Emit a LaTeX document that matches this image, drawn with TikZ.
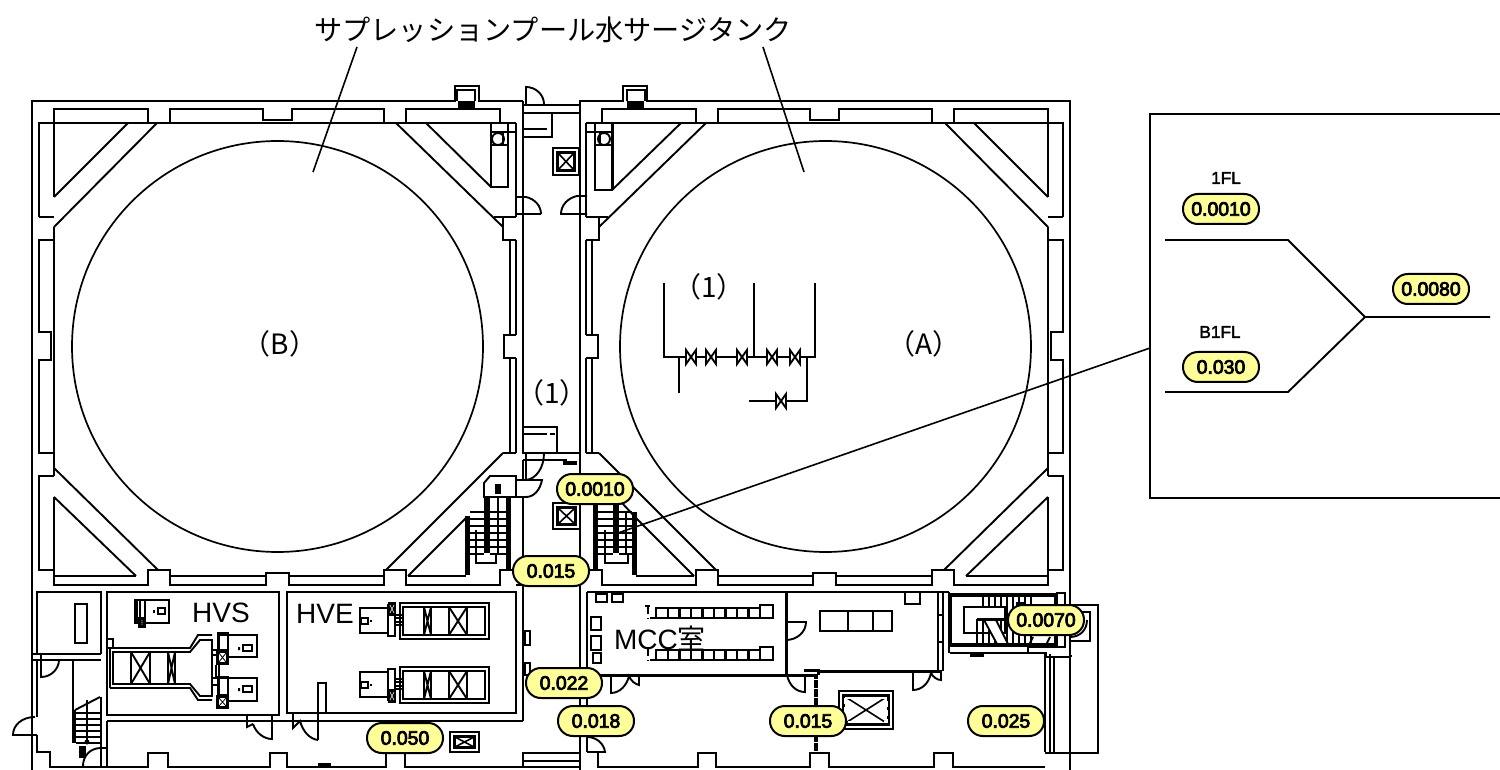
\documentclass[tikz,border=0pt]{standalone}
\usepackage{fontspec}
\setmainfont{Liberation Sans}
\newfontfamily\cjk{Noto Sans CJK JP}
\newcommand{\embold}[2]{\special{pdf:code q 2 Tr #1 w}#2\special{pdf:code Q}}
\tikzset{
  wall/.style={line width=0.95pt,line cap=butt,line join=miter},
  thin wall/.style={line width=0.7pt},
  thick wall/.style={line width=1.5pt},
  leader/.style={line width=0.8pt},
  pill/.style={draw=black,fill=pillyellow,line width=1pt,rounded corners=7.4pt,minimum width=38pt,minimum height=15pt,inner sep=0pt,font=\fontsize{9.7}{11}\selectfont},
  big/.style={font=\fontsize{14}{16}\selectfont,inner sep=0pt},
  small/.style={font=\fontsize{8.6}{10}\selectfont,inner sep=0pt},
  solidbk/.style={fill=black,draw=black,line width=0.4pt}
}
\definecolor{pillyellow}{HTML}{FFFF99}
% one tank hall: far wall, top run, bottom run, corner diagonals
\newcommand{\hallshell}{%
  \draw[wall] (32,770)--(32,101)--(455,101)--(455,86)--(479,86)--(479,101)--(523,101);
  \draw[wall] (457,101)--(457,90)--(475,90)--(475,101);
  \fill (458,101) rectangle (475,109);
  \draw[wall] (39,217)--(39,123)--(516,123);
  \draw[wall] (39,217)--(54,217) (54,240)--(39,240)--(39,332)--(51,332)--(51,360)--(39,360)--(39,453)--(54,453);
  \draw[wall] (54,476)--(39,476)--(39,570)--(54,570);
  \draw[wall] (54,197)--(54,109)--(148,109)--(148,123) (170,123)--(170,109)--(263,109)--(263,120)--(292,120)--(292,109)--(384,109)--(384,123) (406,123)--(406,109)--(500,109)--(500,123);
  \draw[wall] (54,227)--(54,476) (54,497)--(54,585)--(148,585)--(148,570)--(170,570)--(170,585)--(266,585)--(266,573)--(289,573)--(289,585)--(384,585)--(384,570)--(406,570)--(406,585)--(500,585)--(500,570)--(516,570);
  \draw[wall] (54,576)--(136,576) (170,576)--(266,576) (289,576)--(384,576) (408,576)--(466,576);
  \draw[wall] (157,123)--(54,227) (128,123)--(54,197) (396,123)--(503,227);
  \draw[wall] (54,468)--(158,570) (54,497)--(136,576) (503,453)--(386,570) (408,576)--(466,518);
  \draw[wall] (494,217)--(516,217) (503,217)--(503,240)--(516,240);
  \draw[wall] (516,123)--(516,217) (516,240)--(516,335) (516,358)--(516,453);
  \draw[wall] (510,240)--(510,335) (510,358)--(510,453);
  \draw[wall] (516,335)--(504,335)--(504,358)--(516,358);
  \draw[wall] (503,453)--(516,453);
}
\newcommand{\elevbox}[4]{%
  \draw[thin wall,fill=white] (#1,#2) rectangle (#3,#4);
  \fill[black] (#1+3,#2+3) rectangle (#3-3,#4-3);
  \fill[white] (#1+6,#2+6) rectangle (#3-6,#4-6);
  \draw[line width=0.8pt] (#1+5,#2+5)--(#3-5,#4-5) (#1+5,#4-5)--(#3-5,#2+5);
}
\newcommand{\valveH}[2]{%
  \draw[wall,fill=white] (#1-5,#2-7)--(#1+5,#2+7)--(#1+5,#2-7)--(#1-5,#2+7)--cycle;
}
% exhaust air unit, y = top of unit, #2 = top of black fan box
\newcommand{\ahuE}[2]{%
  \draw[wall] (400,#1)rectangle(489,#1+36);
  \draw[wall] (403,#1+4)rectangle(485,#1+32);
  \draw[wall] (424,#1+4)--(424,#1+32) (431,#1+4)--(431,#1+32) (424,#1+4)--(431,#1+32) (431,#1+4)--(424,#1+32);
  \draw[wall] (449,#1+4)--(449,#1+32) (467,#1+4)--(467,#1+32) (449,#1+4)--(467,#1+32) (467,#1+4)--(449,#1+32);
  \draw[wall] (360,#1+5)rectangle(388,#1+30);
  \draw[wall] (388,#1+2)rectangle(395,#1+33);
  \draw[wall] (395,#1+12)rectangle(403,#1+22);
  \draw[thin wall] (395,#1+15)--(403,#1+15) (395,#1+19)--(403,#1+19);
  \draw[thin wall] (361,#1+15)rectangle(368,#1+21);
  \fill (370,#1+17)rectangle(372,#1+19);
  \fill (388,#2)rectangle(396,#2+14);
  \draw[white,line width=0.3pt] (390,#2+3)--(394,#2+11) (390,#2+11)--(394,#2+3);
}
% supply fan in the HVS room
\newcommand{\fanS}[4]{% x1 y1 x2 y2
  \draw[wall] (#1,#2)rectangle(#3,#4);
}
\newcommand{\blackX}[4]{%
  \fill (#1,#2)rectangle(#3,#4);
  \fill[white] (#1+3,#2+3)rectangle(#3-3,#4-3);
  \draw[line width=0.4pt] (#1+3,#2+3)--(#3-3,#4-3) (#1+3,#4-3)--(#3-3,#2+3);
}
\begin{document}
\begin{tikzpicture}[x=0.5pt,y=-0.5pt]
\useasboundingbox (0,0) rectangle (1500,770);
\fill[white] (0,0) rectangle (1500,770);
\begin{scope}
\clip (0,0) rectangle (1500,770);

% tank halls
\hallshell
\begin{scope}[cm={-1,0,0,1,(551pt,0pt)}]
\hallshell
\end{scope}
\draw[wall] (523,105)--(580,105);
\draw[wall] (426,123)--(491,187) (681,123)--(612,190);
\draw[wall] (622,503)--(636,518);
\node[circle,draw,line width=0.85pt,minimum size=205.5pt,inner sep=0pt] (tankB) at (277.5,346.5) {};
\node[circle,draw,line width=0.85pt,minimum size=205.5pt,inner sep=0pt] (tankA) at (825.5,346.5) {};

% end boxes by the corridor (top)
\draw[wall] (491,123)rectangle(508,187) (491,132)--(508,132) (491,145)--(508,145) (508,123)--(508,132);
\draw[wall] (498,139)circle[radius=6];
\draw[wall] (503,133)--(503,145);
\draw[wall] (595,123)rectangle(612,190) (595,132)--(612,132) (595,145)--(612,145);
\draw[wall] (604,139)circle[radius=6];
\draw[wall] (600,133)--(600,145);
\draw[thick wall] (612,123)--(612,190);
\draw[wall] (587,132)--(595,132) (508,132)--(516,132);

% corridor
\draw[wall] (523,101)--(523,434) (523,460)--(523,480) (523,497)--(523,721);
\draw[wall] (580,101)--(580,770);
\draw[wall] (523,113)--(580,113);
\draw[wall] (526,113)--(552,113)--(552,137)--(523,137) (523,129)--(547,129);
\draw[wall] (526,104)--(526,87) .. controls (536,87) and (544,95) .. (544,104);
\draw[wall] (523,427)--(557,427)--(557,453) (523,434)--(547,434) (550,434)--(555,434) (523,434)--(523,453)--(580,453);
\draw[wall] (523,460)--(567,460);
\fill (563,461) rectangle (577,465);
\draw[wall] (541,214)--(516,214) (516,197)--(526,197) .. controls (535,199) and (541,206) .. (541,214);
\draw[wall] (587,196)--(577,196) .. controls (568,198) and (561,205) .. (561,214) --(587,214);
\elevbox{553}{148}{579}{175}
\elevbox{553}{503}{580}{529}

% doors to the stair
\draw[wall] (526,453)--(526,480) (544,453) .. controls (544,468) and (536,479) .. (526,480);
\draw[wall] (516,480)--(542,480) .. controls (540,490) and (534,497) .. (526,497)--(516,497);

% left stair
\draw[wall] (490,476)--(516,476)--(516,497)--(484,497)--(484,483)--cycle;
\fill (495,484) rectangle (501,494);
\draw[wall] (498,497)--(498,555);
\fill (465,516) rectangle (470,575);
\fill (484,497) rectangle (490,553);
\fill (506,497) rectangle (511,570);
\foreach \ty in {512,519,526,533,540,547,554}{
  \draw[thin wall] (470,\ty)--(484,\ty) (490,\ty)--(506,\ty);}
\draw[wall] (476,530)--(476,563)--(496,563)--(496,553);

% right stair
\fill (593,505) rectangle (598,570);
\fill (613,505) rectangle (619,553);
\fill (632,512) rectangle (637,575);
\foreach \ty in {512,519,526,533,540,547,554}{
  \draw[thin wall] (598,\ty)--(613,\ty) (619,\ty)--(632,\ty);}
\draw[wall] (626,513)--(626,553);
\draw[wall] (605,530)--(605,563)--(628,563)--(628,553);

% pipe sketch in tank A
\draw[wall] (664,283)--(664,357)--(815,357)--(815,283) (754,283)--(754,357) (679,357)--(679,393);
\draw[wall] (807,357)--(807,401)--(749,401);
\foreach \vx in {691,711,742,772,795}{\valveH{\vx}{357}}
\valveH{781}{401}

% lower left rooms
\draw[wall] (37,654)--(37,592)--(101,592)--(101,654);
\draw[wall] (75,604)rectangle(87,643);
\draw[wall] (32,654)--(101,654) (32,660)--(101,660) (41,654)--(41,660);
\draw[wall] (41,660)--(41,677) .. controls (52,677) and (59,668) .. (59,660);
\draw[wall] (37,660)--(37,717) (37,735)--(37,752)--(50,752)--(50,767)--(148,767)--(148,753)--(168,753)--(168,767)--(270,767)--(270,753)--(287,753)--(287,767)--(386,767)--(386,753) (405,753)--(405,767)--(523,767)--(523,753)--(580,753);
\draw[wall] (35,717) .. controls (22,717) and (13,725) .. (13,735)--(37,735);
\draw[wall] (73,660)--(73,710);
\fill (72,710) rectangle (76,743);
\draw[wall] (101,697)--(101,766) (107,721)--(107,766);
\draw[wall] (75,710)--(100,697);
\foreach \ty in {713,719,725,731,737,743}{\draw[thin wall] (76,\ty)--(101,\ty);}
\draw[wall] (87,700)--(87,742);
\fill (87,742) circle[radius=2.5];
\fill (79,746) rectangle (86,758);
\draw[wall] (83,766) .. controls (83,756) and (90,748) .. (101,748)--(107,748);
\draw[wall] (523,761)--(580,761) (523,767)--(580,767);

% HVS room
\draw[wall] (107,592)rectangle(279,715);
\draw[wall] (107,721)--(523,721);
\draw[wall] (247,715)--(247,727)--(253,724) (272,715)--(272,739) .. controls (264,739) and (256,733) .. (253,724);
% small fan
\draw[wall] (140,600)rectangle(169,623);
\draw[thin wall] (135,600)rectangle(145,623);
\fill (135,600)rectangle(138,622);
\blackX{138}{617}{146}{628}
\draw[thin wall] (158,608)rectangle(165,614);
\fill (153,610)rectangle(155,613);
% duct
\draw[wall] (110,648)--(190,648)--(198,635)--(212,635) (110,688)--(190,688)--(198,700)--(212,700) (110,648)--(110,688);
\draw[wall] (113,652)--(190,652)--(200,640)--(212,640)--(212,696)--(200,696)--(190,684)--(113,684)--cycle;
\draw[wall] (131,652)--(131,684) (150,652)--(150,684) (131,652)--(150,684) (150,652)--(131,684);
\draw[wall] (168,652)--(168,684) (175,652)--(175,684) (168,652)--(175,684) (175,652)--(168,684);
\draw[thin wall] (107,639)rectangle(113,648);
% twin fans
\fanS{219}{635}{257}{657}
\fanS{219}{678}{257}{701}
\draw[wall] (218,633)rectangle(228,650) (218,677)rectangle(228,695);
\draw[wall] (212,650)--(218,650) (212,655)--(218,655) (212,678)--(218,678) (212,685)--(218,685);
\draw[wall] (216,665)--(216,678) (219,665)--(219,678);
\blackX{216}{650}{229}{665}
\blackX{216}{695}{229}{709}
\draw[thin wall] (243,645)rectangle(252,651) (243,686)rectangle(252,692);
\fill (238,647)rectangle(240,650) (238,688)rectangle(240,691);

% HVE room
\draw[wall] (287,592)rectangle(516,713);
\draw[wall] (516,585)--(523,585);
\draw[wall,fill=white] (318,740)--(318,683)--(326,683)--(326,713)--(318,713);
\draw[wall] (293,713)--(293,728)--(300,721) .. controls (303,732) and (310,739) .. (318,740);
\ahuE{603}{602}
\ahuE{667}{689}
\draw[thin wall] (525,631)rectangle(530,645) (525,663)rectangle(530,675);

% bottom corridor fixture
\elevbox{450}{732}{479}{752}
\fill (318,763)rectangle(331,768);

% MCC room
\draw[wall] (587,592)--(786,592) (587,592)--(587,752);
\draw[thick wall] (786,592)--(786,675);
\draw[thick wall] (587,675)--(818,675) (804,670)--(818,670)--(818,675);
\draw[thin wall] (596,594)rectangle(607,602) (612,594)rectangle(623,602) (591,617)rectangle(601,630) (591,636)rectangle(601,650) (593,653)rectangle(601,663);
\foreach \yy/\yb in {608/618,650/660}{
  \foreach \cx in {656,668,679,691,702,714,725,737,748}{
    \draw[thin wall,line width=0.75pt] (\cx,\yy)rectangle(\cx+12,\yb);}
  \draw[wall] (760,\yy-3)rectangle(773,\yb);
  \draw[thin wall] (650,\yb)--(656,\yb);
  \draw[thin wall,dash pattern=on 4pt off 2pt] (648,\yy-2)--(648,\yb+1);
  \draw[thin wall] (645,\yy-2)--(650,\yy-2);
}
\draw[wall] (786,622)--(806,622) .. controls (806,632) and (797,640) .. (786,640);
\draw[wall] (611,675)--(611,693) .. controls (620,693) and (627,685) .. (629,676) .. controls (631,681) and (635,684) .. (639,685)--(639,675);
\draw[wall] (787,675) .. controls (789,685) and (796,692) .. (805,692)--(805,675);
\draw[wall] (587,737) .. controls (597,737) and (604,744) .. (605,752)--(587,752);
\draw[wall] (598,752)--(598,767)--(698,767)--(698,753)--(716,753)--(716,767)--(810,767)--(810,753)--(829,753)--(829,767)--(934,767)--(934,753)--(953,753)--(953,767)--(1045,767);
\draw[thick wall,line width=1.7pt,dash pattern=on 2pt off 0.25pt] (816,675)--(816,752);

% upper right room
\draw[wall] (786,592)--(949,592);
\draw[wall] (905,592)--(905,604)--(920,604)--(920,592);
\draw[wall] (820,611)rectangle(892,631) (848,611)--(848,631) (873,611)--(873,631);
\draw[thick wall] (818,671)--(942,671);
\draw[wall] (938,592)--(938,671) (949,592)--(949,653);
\draw[wall] (938,615)--(943,615) (938,642)--(943,642);
\draw[wall] (943,592)--(943,671);
\draw[wall] (913,673)--(913,690) .. controls (922,690) and (929,683) .. (931,673) .. controls (933,677) and (937,680) .. (941,680)--(941,672);
\elevbox{839}{691}{893}{729}
\draw[white,line width=0.9pt,dash pattern=on 3pt off 1.5pt] (845,698)rectangle(887,722);

% stair room, right
\draw[thick wall,line width=1.9pt] (950,595)--(950,645)--(1056,645)--(1056,595)--cycle;
\draw[wall] (1056,593)--(1065,593)--(1065,647)--(1028,647) (950,653)--(1046,653)--(1046,657)--(1071,657);
\foreach \tx in {983,989,995,1001,1007,1013,1019,1025,1031}{\draw[thin wall] (\tx,597)--(\tx,644);}
\draw[wall,fill=white] (964,607)--(1005,607)--(1005,633)--(964,633)--cycle;
\foreach \tx in {983,989,995,1001}{\draw[thin wall] (\tx,620)--(\tx,644);}
\draw[thick wall] (977,619)--(1012,619);
\draw[thick wall,line width=1.1pt] (977,619)--(977,644);
\draw[wall,fill=white] (984,620)--(996,620)--(1008,644)--(997,644)--cycle;
\fill (970,653)rectangle(984,657);
\fill (1016,602)rectangle(1026,606);
\draw[wall] (1028,647)--(1028,653) (1028,647)--(1033,637) (1045,647)--(1050,637);
\draw[wall] (1045,654)--(1045,752) (1050,654)--(1050,752) (1054,657)--(1054,752);
\draw[wall] (1071,605)--(1098,605)--(1098,753)--(1045,753);
\draw[wall] (1071,612)--(1090,612)--(1090,641)--(1071,641);
\draw[wall] (1070,637) .. controls (1080,637) and (1087,630) .. (1087,620);
\draw[wall] (1071,655)--(1071,657);

% callout
\draw[wall] (1500,114)--(1150,114)--(1150,498)--(1500,498);
\draw[wall] (1165,240)--(1288,240)--(1365,317)--(1490,317) (1165,392)--(1288,392)--(1365,317);
\end{scope}

% texts
\node[font=\cjk\fontsize{14.1}{16}\selectfont,inner sep=0pt] (title) at (553,30) {サプレッションプール水サージタンク};
\coordinate (ttA) at (357,47);
\coordinate (ttAe) at (313,172);
\coordinate (ttB) at (763,47);
\coordinate (ttBe) at (804,172);
\draw[leader] (ttA)--(ttAe);
\draw[leader] (ttB)--(ttBe);
\coordinate (boxhook) at (1150,348);
\coordinate (stairhook) at (618,533);
\draw[leader] (boxhook)--(stairhook);

\node[font=\cjk\fontsize{14}{16}\selectfont,inner sep=0pt] (labB) at (280,344) {（B）};
\node[font=\cjk\fontsize{14}{16}\selectfont,inner sep=0pt] (labA) at (924,344) {（A）};
\node[font=\cjk\fontsize{14}{16}\selectfont,inner sep=0pt] (lab1a) at (709,287) {（1）};
\node[font=\cjk\fontsize{14}{16}\selectfont,inner sep=0pt] (lab1b) at (552,393) {（1）};
\node[big] (hvs) at (221,613) {HVS};
\node[big] (hve) at (325,614) {HVE};
\node[big] (mcc) at (660,638) {MCC{\cjk 室}};
\node[small] (fl1) at (1226,178) {\embold{0.2}{1FL}};
\node[small] (fl2) at (1220,332) {\embold{0.2}{B1FL}};

\node[pill] (p1) at (595,489) {\embold{0.4}{0.0010}};
\node[pill] (p2) at (551,571) {\embold{0.4}{0.015}};
\node[pill] (p3) at (1046,620) {\embold{0.4}{0.0070}};
\node[pill] (p4) at (564,683) {\embold{0.4}{0.022}};
\node[pill] (p5) at (596,721) {\embold{0.4}{0.018}};
\node[pill] (p6) at (808,721) {\embold{0.4}{0.015}};
\node[pill] (p7) at (1006,721) {\embold{0.4}{0.025}};
\node[pill] (p8) at (405,738) {\embold{0.4}{0.050}};
\node[pill] (p9) at (1221,209) {\embold{0.4}{0.0010}};
\node[pill] (p10) at (1221,367) {\embold{0.4}{0.030}};
\node[pill] (p11) at (1431,289) {\embold{0.4}{0.0080}};
\end{tikzpicture}
\end{document}
